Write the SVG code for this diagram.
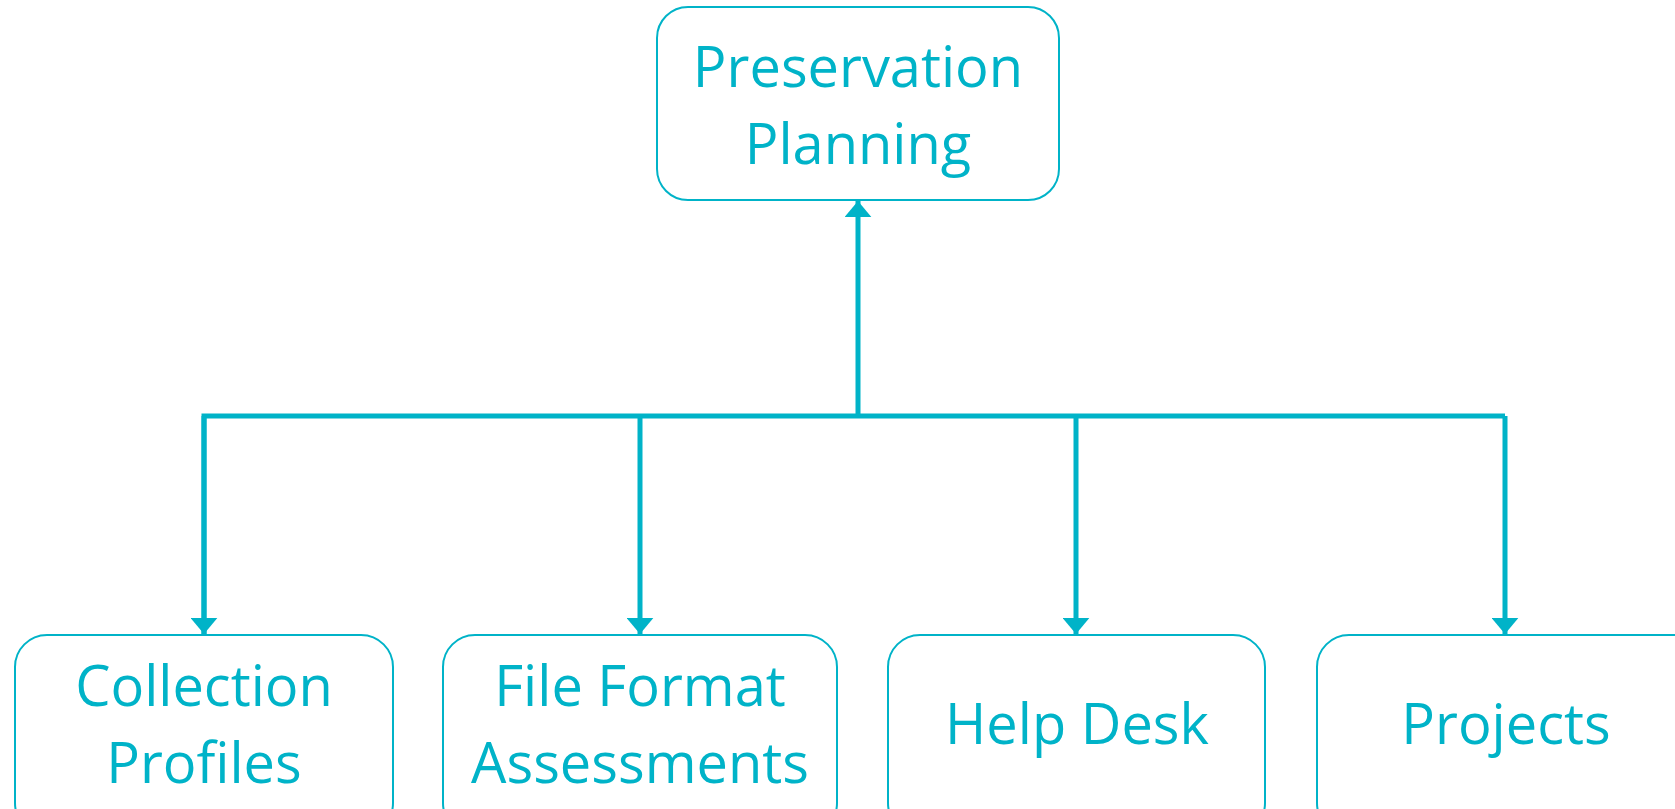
<svg xmlns="http://www.w3.org/2000/svg" width="1675" height="809" viewBox="0 0 1675 809">
<style>
.box{fill:#fff;stroke:#00B3C8;stroke-width:2}
.lbl{font-family:"Open Sans","Liberation Sans",sans-serif;font-size:56px;fill:#00B3C8;text-anchor:middle}
.con{fill:none;stroke:#00B3C8;stroke-width:5;stroke-linejoin:miter}
</style>
<defs>
<marker id="ah" viewBox="0 0 6 10" refX="6" refY="5" markerWidth="3.2" markerHeight="5.4" markerUnits="strokeWidth" orient="auto">
<path d="M0,0 L6,5 L0,10 Z" fill="#00B3C8"/>
</marker>
</defs>
<g id="connectors">
<path class="con" d="M858,416 L858,201" marker-end="url(#ah)"/>
<path class="con" d="M204,634 L204,416 L1505,416"/>
<path class="con" d="M204,416 L204,634" marker-end="url(#ah)"/>
<path class="con" d="M640,416 L640,634" marker-end="url(#ah)"/>
<path class="con" d="M1076,416 L1076,634" marker-end="url(#ah)"/>
<path class="con" d="M1505,416 L1505,634" marker-end="url(#ah)"/>
</g>
<g id="node-preservation-planning">
<rect class="box" x="657" y="7" width="402" height="193" rx="31"/>
<text class="lbl" x="858" y="87">Preservation</text>
<text class="lbl" x="858" y="164">Planning</text>
</g>
<g id="node-collection-profiles">
<rect class="box" x="15" y="635" width="378" height="200" rx="32"/>
<text class="lbl" x="204" y="706">Collection</text>
<text class="lbl" x="204" y="783">Profiles</text>
</g>
<g id="node-file-format-assessments">
<rect class="box" x="443" y="635" width="394" height="200" rx="32"/>
<text class="lbl" x="640" y="706">File Format</text>
<text class="lbl" x="640" y="783">Assessments</text>
</g>
<g id="node-help-desk">
<rect class="box" x="888" y="635" width="377" height="200" rx="32"/>
<text class="lbl" x="1077" y="744">Help Desk</text>
</g>
<g id="node-projects">
<rect class="box" x="1317" y="635" width="400" height="200" rx="32"/>
<text class="lbl" x="1506" y="744">Projects</text>
</g>
</svg>
